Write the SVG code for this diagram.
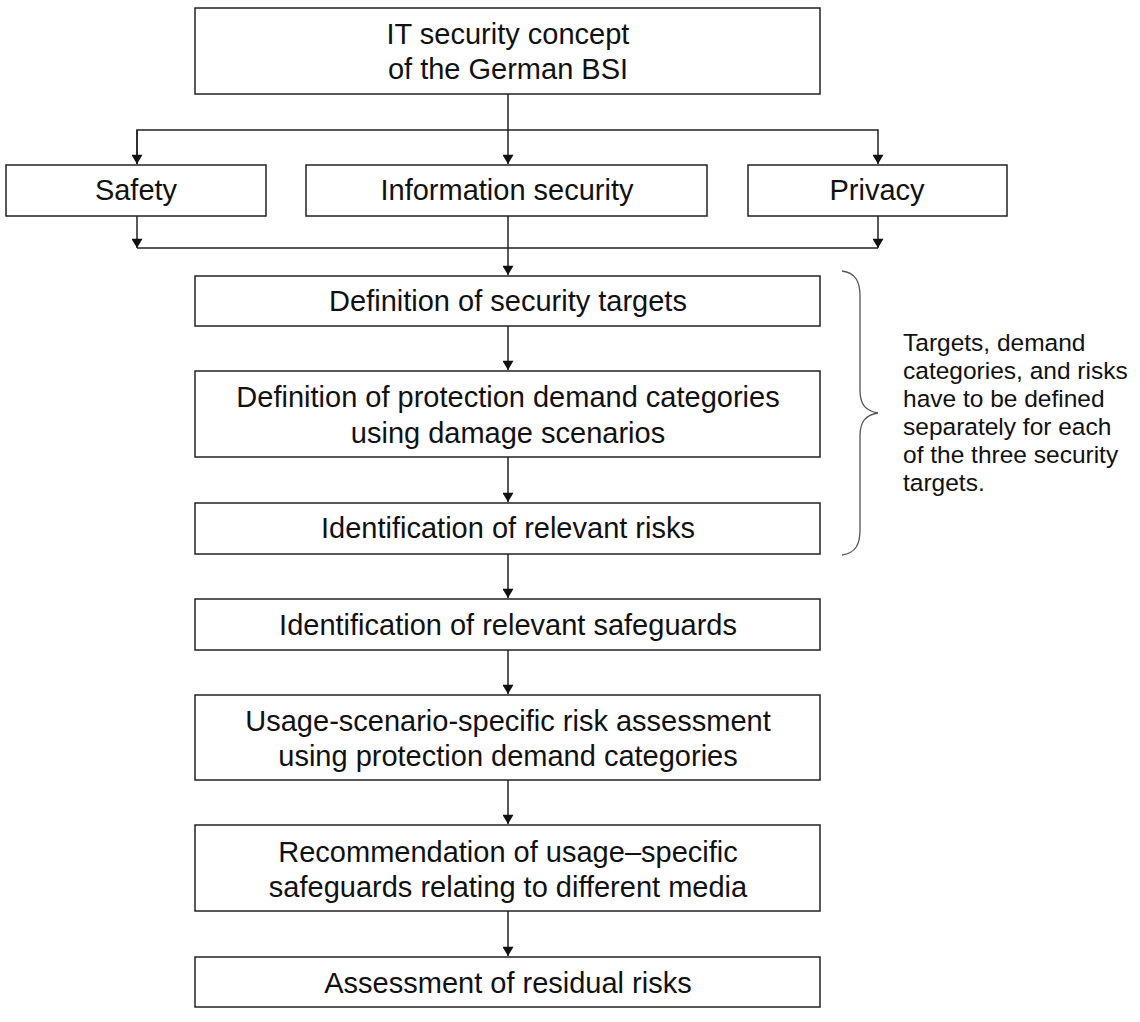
<svg xmlns="http://www.w3.org/2000/svg" width="1140" height="1022" viewBox="0 0 1140 1022">
<defs>
<style>
.box{fill:#fff;stroke:#222;stroke-width:1.5}
.t{font-family:"Liberation Sans",Arial,sans-serif;font-size:29px;fill:#111;text-anchor:middle}
.n{font-family:"Liberation Sans",Arial,sans-serif;font-size:24.5px;fill:#111}
.c{fill:none;stroke:#222;stroke-width:1.5}
</style>
<marker id="ah" viewBox="0 0 10 12" refX="10" refY="6" markerWidth="12" markerHeight="11" markerUnits="userSpaceOnUse" orient="auto">
<path d="M0,0 L10,6 L0,12 z" fill="#111"/>
</marker>
</defs>
<rect width="1140" height="1022" fill="#fff"/>
<g id="connectors">
<path class="c" d="M508,94 V164" marker-end="url(#ah)"/>
<path class="c" d="M137,164 V130 H878 V164" marker-end="url(#ah)"/>
<path class="c" d="M137,130 V164" marker-end="url(#ah)"/>
<path class="c" d="M137,216 V248" marker-end="url(#ah)"/>
<path class="c" d="M878,216 V248" marker-end="url(#ah)"/>
<path class="c" d="M137,248 H878"/>
<path class="c" d="M508,216 V275" marker-end="url(#ah)"/>
<path class="c" d="M508,326 V370" marker-end="url(#ah)"/>
<path class="c" d="M508,457 V502" marker-end="url(#ah)"/>
<path class="c" d="M508,554 V598" marker-end="url(#ah)"/>
<path class="c" d="M508,650 V694" marker-end="url(#ah)"/>
<path class="c" d="M508,780 V824" marker-end="url(#ah)"/>
<path class="c" d="M508,911 V956" marker-end="url(#ah)"/>
</g>
<g id="n-top"><rect class="box" x="195" y="8" width="625" height="86"/><text class="t" x="508" y="44">IT security concept</text><text class="t" x="508" y="79">of the German BSI</text></g>
<g id="n-safety"><rect class="box" x="6" y="165" width="260" height="51"/><text class="t" x="136" y="200">Safety</text></g>
<g id="n-infosec"><rect class="box" x="306" y="165" width="401" height="51"/><text class="t" x="507" y="200">Information security</text></g>
<g id="n-privacy"><rect class="box" x="748" y="165" width="259" height="51"/><text class="t" x="877" y="200">Privacy</text></g>
<g id="n-targets"><rect class="box" x="195" y="276" width="625" height="50"/><text class="t" x="508" y="311">Definition of security targets</text></g>
<g id="n-demand"><rect class="box" x="195" y="371" width="625" height="86"/><text class="t" x="508" y="407">Definition of protection demand categories</text><text class="t" x="508" y="443">using damage scenarios</text></g>
<g id="n-risks"><rect class="box" x="195" y="503" width="625" height="51"/><text class="t" x="508" y="538">Identification of relevant risks</text></g>
<g id="n-safeguards"><rect class="box" x="195" y="599" width="625" height="51"/><text class="t" x="508" y="635">Identification of relevant safeguards</text></g>
<g id="n-usage"><rect class="box" x="195" y="695" width="625" height="85"/><text class="t" x="508" y="731">Usage-scenario-specific risk assessment</text><text class="t" x="508" y="766">using protection demand categories</text></g>
<g id="n-recommend"><rect class="box" x="195" y="825" width="625" height="86"/><text class="t" x="508" y="862">Recommendation of usage–specific</text><text class="t" x="508" y="897">safeguards relating to different media</text></g>
<g id="n-residual"><rect class="box" x="195" y="957" width="625" height="50"/><text class="t" x="508" y="993">Assessment of residual risks</text></g>
<g id="brace">
<path d="M842,271 C856,273 860,282 860,296 V390 C860,405 866,411 878,413 C866,415 860,421 860,436 V530 C860,544 856,553 842,555" fill="none" stroke="#555" stroke-width="1.3"/>
</g>
<g id="note">
<text class="n" x="903" y="351">Targets, demand</text>
<text class="n" x="903" y="379">categories, and risks</text>
<text class="n" x="903" y="407">have to be defined</text>
<text class="n" x="903" y="435">separately for each</text>
<text class="n" x="903" y="463">of the three security</text>
<text class="n" x="903" y="491">targets.</text>
</g>
</svg>
